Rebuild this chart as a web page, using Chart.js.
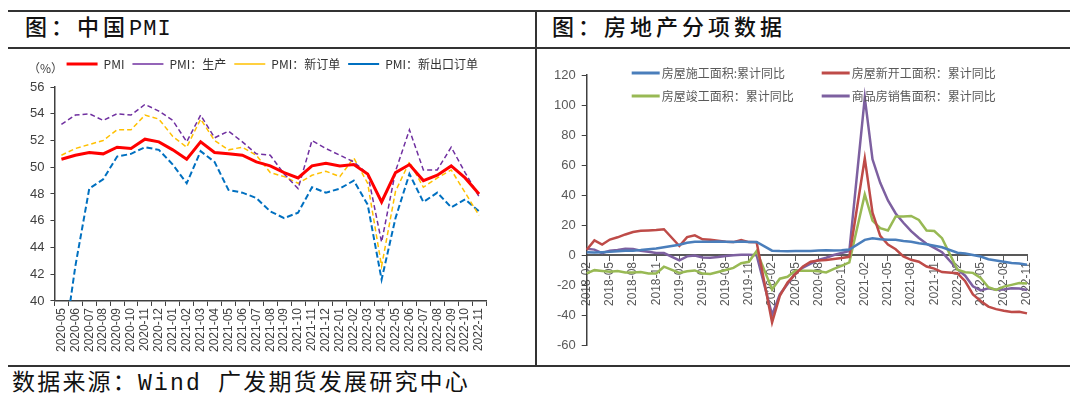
<!DOCTYPE html>
<html>
<head>
<meta charset="utf-8">
<script src="https://cdn.jsdelivr.net/npm/chart.js@4.4.0/dist/chart.umd.min.js"></script>
<style>
  body { margin: 0; background: #fff; }
  #page { position: relative; width: 1080px; height: 405px; overflow: hidden; background: #fff;
          font-family: "Liberation Mono", "Noto Sans CJK SC", monospace; color: #111; }
  .hl { position: absolute; height: 2px; background: #333; }
  .vl { position: absolute; width: 2px; background: #333; }
  .title { position: absolute; font-size: 22px; letter-spacing: 4px; line-height: 1; font-weight: 500; }
  .foot { position: absolute; font-size: 23px; letter-spacing: 2.2px; line-height: 1; }
  .box { position: absolute; }
</style>
</head>
<body>
<div id="page">
  <div class="hl" style="left:8px;top:10px;width:1062px"></div>
  <div class="hl" style="left:8px;top:47px;width:1062px"></div>
  <div class="hl" style="left:8px;top:365px;width:1062px"></div>
  <div class="vl" style="left:535px;top:10px;height:357px"></div>
  <div class="title" style="left:25px;top:19px">图：中国<span style="letter-spacing:1px">PMI</span></div>
  <div class="title" style="left:552px;top:19px">图：房地产分项数据</div>
  <div class="foot" style="left:12px;top:373px">数据来源：Wind 广发期货发展研究中心</div>
  <div class="box" style="left:10px;top:50px;width:520px;height:314px"><canvas id="pmi" width="520" height="314"></canvas></div>
  <div class="box" style="left:540px;top:50px;width:528px;height:314px"><canvas id="estate" width="528" height="314"></canvas></div>
</div>
<script>
// ---- 中国PMI ----
const pmiMonths = ['2020-05','2020-06','2020-07','2020-08','2020-09','2020-10','2020-11','2020-12',
  '2021-01','2021-02','2021-03','2021-04','2021-05','2021-06','2021-07','2021-08','2021-09','2021-10','2021-11','2021-12',
  '2022-01','2022-02','2022-03','2022-04','2022-05','2022-06','2022-07','2022-08','2022-09','2022-10','2022-11'];
const pmi = [50.6,50.9,51.1,51.0,51.5,51.4,52.1,51.9,51.3,50.6,51.9,51.1,51.0,50.9,50.4,50.1,49.6,49.2,50.1,50.3,
  50.1,50.2,49.5,47.4,49.6,50.2,49.0,49.4,50.1,49.2,48.0];
const pmiProduction = [53.2,53.9,54.0,53.5,54.0,53.9,54.7,54.2,53.5,51.9,53.9,52.2,52.7,51.9,51.0,50.9,49.5,48.4,52.0,51.4,
  50.9,50.4,49.5,44.4,49.7,52.8,49.8,49.8,51.5,49.6,47.8];
const pmiNewOrders = [50.9,51.4,51.7,52.0,52.8,52.8,53.9,53.6,52.3,51.5,53.6,52.0,51.3,51.5,50.9,49.6,49.3,48.8,49.4,49.7,
  49.3,50.7,48.8,42.6,48.2,50.4,48.5,49.2,49.8,48.1,46.4];
const pmiExportOrders = [35.3,42.6,48.4,49.1,50.8,51.0,51.5,51.3,50.2,48.8,51.2,50.4,48.3,48.1,47.7,46.7,46.2,46.6,48.5,48.1,
  48.4,49.0,47.2,41.6,46.2,49.5,47.4,48.1,47.0,47.6,46.7];

// ---- 房地产分项 (累计同比, 1月无数据) ----
const estateMonths = ['2018-02','2018-03','2018-04','2018-05','2018-06','2018-07','2018-08','2018-09','2018-10','2018-11','2018-12',
  '2019-01','2019-02','2019-03','2019-04','2019-05','2019-06','2019-07','2019-08','2019-09','2019-10','2019-11','2019-12',
  '2020-01','2020-02','2020-03','2020-04','2020-05','2020-06','2020-07','2020-08','2020-09','2020-10','2020-11','2020-12',
  '2021-01','2021-02','2021-03','2021-04','2021-05','2021-06','2021-07','2021-08','2021-09','2021-10','2021-11','2021-12',
  '2022-01','2022-02','2022-03','2022-04','2022-05','2022-06','2022-07','2022-08','2022-09','2022-10','2022-11'];
const underConstruction = [1.9,1.7,1.9,2.1,2.5,2.8,2.9,3.3,3.9,4.3,5.2,
  null,6.8,8.2,8.8,8.8,8.8,9.0,8.8,8.7,9.0,8.7,8.7,
  null,2.9,2.6,2.5,2.6,2.6,2.7,3.0,3.1,3.0,3.2,3.7,
  null,10.1,11.2,10.5,10.1,10.2,9.3,8.9,7.9,7.1,6.1,5.2,
  null,1.5,1.0,0.0,-1.0,-2.8,-3.7,-4.5,-5.3,-5.7,-6.5];
const newStarts = [3.5,9.7,7.0,10.3,11.8,13.7,15.3,16.1,16.3,16.6,17.2,
  null,6.0,11.9,13.1,10.5,10.1,9.5,8.9,8.6,10.0,8.6,8.5,
  null,-44.9,-27.2,-18.4,-12.8,-7.6,-4.5,-3.6,-3.4,-2.7,-2.0,-1.2,
  null,64.3,28.2,12.8,6.9,3.8,-0.9,-3.2,-4.5,-7.7,-9.1,-11.4,
  null,-12.2,-17.5,-26.3,-30.6,-34.4,-36.1,-37.2,-38.0,-37.8,-38.9];
const completed = [-12.3,-10.1,-10.6,-11.1,-10.6,-11.6,-11.6,-11.4,-12.3,-12.3,-7.8,
  null,-11.9,-10.8,-10.3,-12.4,-12.7,-11.3,-10.0,-8.6,-5.5,-4.5,2.6,
  null,-22.9,-15.8,-14.5,-10.5,-10.5,-10.5,-10.8,-11.6,-9.2,-7.3,-4.9,
  null,40.4,22.9,17.9,16.4,25.7,25.7,26.0,23.4,16.3,16.0,11.2,
  null,-9.8,-11.5,-11.9,-15.3,-21.5,-23.3,-21.1,-19.9,-18.7,-19.0];
const sales = [4.1,3.6,1.3,2.9,3.3,4.2,4.0,2.9,2.2,1.4,1.3,
  null,-3.6,-0.9,-0.3,-1.6,-1.8,-1.3,-0.6,-0.1,0.1,0.2,-0.1,
  null,-39.9,-26.3,-19.3,-12.3,-8.4,-5.8,-3.3,-1.8,0.0,1.3,2.6,
  null,104.9,63.8,48.1,36.4,27.7,21.5,15.9,11.3,7.5,4.8,1.9,
  null,-9.6,-13.8,-20.9,-23.6,-22.2,-23.1,-23.0,-22.2,-22.3,-23.3];

const tickFont = { family: '"Liberation Sans", "Noto Sans CJK SC", sans-serif', size: 12 };
const cjkFont = '"Noto Sans CJK SC", "Liberation Sans", sans-serif';

// unit label "（%）" above the y axis
const unitLabel = {
  id: 'unitLabel',
  afterDraw(chart) {
    const { ctx } = chart;
    ctx.save();
    ctx.font = '12px ' + cjkFont;
    ctx.fillStyle = '#404040';
    ctx.textBaseline = 'middle';
    ctx.fillText('（%）', 18, 18);
    ctx.restore();
  }
};

// 2x2 legend drawn inside the plot area, like the Excel original
const gridLegend = {
  id: 'gridLegend',
  afterDraw(chart) {
    const { ctx, chartArea } = chart;
    const cols = [45, 235], rows = [-2, 21];
    ctx.save();
    ctx.font = '12px ' + cjkFont;
    ctx.textBaseline = 'middle';
    chart.data.datasets.forEach((ds, i) => {
      const x = chartArea.left + cols[i % 2];
      const y = chartArea.top + rows[Math.floor(i / 2)];
      ctx.strokeStyle = ds.borderColor;
      ctx.lineWidth = 3;
      ctx.beginPath();
      ctx.moveTo(x, y);
      ctx.lineTo(x + 28, y);
      ctx.stroke();
      ctx.fillStyle = '#595959';
      ctx.fillText(ds.label, x + 30, y);
    });
    ctx.restore();
  }
};

new Chart(document.getElementById('pmi'), {
  type: 'line',
  data: {
    labels: pmiMonths,
    datasets: [
      { label: 'PMI', data: pmi, borderColor: '#ff0000', borderWidth: 3 },
      { label: 'PMI：生产', data: pmiProduction, borderColor: '#7030a0', borderWidth: 1.5, borderDash: [5, 3] },
      { label: 'PMI：新订单', data: pmiNewOrders, borderColor: '#ffc000', borderWidth: 1.5, borderDash: [5, 3] },
      { label: 'PMI：新出口订单', data: pmiExportOrders, borderColor: '#0070c0', borderWidth: 2, borderDash: [6, 3] },
    ],
  },
  options: {
    responsive: false,
    animation: false,
    elements: { point: { radius: 0 }, line: { tension: 0, backgroundColor: 'transparent' } },
    layout: { padding: { left: 14, right: 44, top: 0, bottom: 10 } },
    plugins: {
      legend: {
        position: 'top',
        align: 'end',
        labels: {
          usePointStyle: true, pointStyle: 'line', pointStyleWidth: 31,
          color: '#333', padding: 8, font: { family: cjkFont, size: 12 },
        },
      },
      tooltip: { enabled: false },
    },
    scales: {
      x: {
        offset: true,
        grid: { offset: true, drawOnChartArea: false, tickLength: 5, color: '#404040' },
        border: { color: '#404040', width: 1.5 },
        ticks: { autoSkip: false, minRotation: 90, maxRotation: 90, color: '#404040', font: tickFont, padding: 2 },
      },
      y: {
        min: 40, max: 56,
        ticks: { stepSize: 2, color: '#404040', font: { ...tickFont, size: 13 }, padding: 6 },
        grid: { drawOnChartArea: false, tickLength: 4, color: '#404040' },
        border: { color: '#404040', width: 1.5 },
      },
    },
  },
  plugins: [unitLabel, {
    id: 'legendGap',
    beforeInit(chart) {
      // leave room between the legend row and the top of the plot
      const fit = chart.legend.fit;
      chart.legend.fit = function () { fit.call(this); this.height += 7; };
    },
  }],
});

new Chart(document.getElementById('estate'), {
  type: 'line',
  data: {
    labels: estateMonths,
    datasets: [
      { label: '房屋施工面积:累计同比', data: underConstruction, borderColor: '#4a7ebb' },
      { label: '房屋新开工面积：累计同比', data: newStarts, borderColor: '#be4b48' },
      { label: '房屋竣工面积：累计同比', data: completed, borderColor: '#98b954' },
      { label: '商品房销售面积：累计同比', data: sales, borderColor: '#7d60a0' },
    ],
  },
  options: {
    responsive: false,
    animation: false,
    spanGaps: true,
    elements: { point: { radius: 0 }, line: { tension: 0, borderWidth: 2.5, backgroundColor: 'transparent' } },
    layout: { padding: { left: 8, right: 41, top: 25, bottom: 19 } },
    plugins: { legend: { display: false }, tooltip: { enabled: false } },
    scales: {
      x: {
        position: { y: 0 },
        z: 1,
        grid: {
          drawOnChartArea: false, tickLength: 5,
          tickColor: (c) => (c.index % 3 === 0 ? '#595959' : 'transparent'),
        },
        border: { color: '#595959', width: 2 },
        ticks: {
          autoSkip: false, minRotation: 90, maxRotation: 90, color: '#595959', font: tickFont, padding: 2,
          callback: (v, i) => (i % 3 === 0 ? estateMonths[i] : ''),
        },
      },
      y: {
        min: -60, max: 120,
        ticks: { stepSize: 20, color: '#595959', font: { ...tickFont, size: 13 }, padding: 6 },
        grid: { drawOnChartArea: false, tickLength: 5, color: '#404040' },
        border: { color: '#404040', width: 1.5 },
      },
    },
  },
  plugins: [gridLegend],
});
</script>
</body>
</html>
